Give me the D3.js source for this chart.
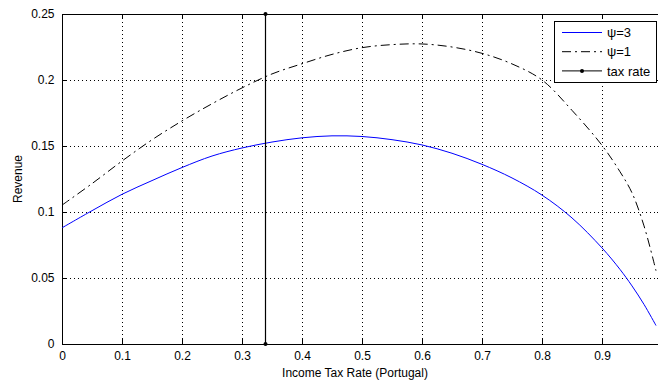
<!DOCTYPE html>
<html>
<head>
<meta charset="utf-8">
<script src="https://cdn.jsdelivr.net/npm/d3@7"></script>
<style>
  body { margin: 0; background: #fff; }
  svg { display: block; font-family: "Liberation Sans", Arial, sans-serif; }
</style>
</head>
<body>
<div id="container"></div>
<script>
// Revenue vs income tax rate (Portugal)

const taxRates = [0, 0.05, 0.1, 0.15, 0.2, 0.25, 0.3, 0.35, 0.4, 0.45, 0.5, 0.55, 0.6, 0.65, 0.7, 0.75, 0.8, 0.85, 0.9, 0.93, 0.95, 0.97, 0.99]
const revenuePsi3 = [0.088, 0.101, 0.1134, 0.1238, 0.1337, 0.1424, 0.1485, 0.153, 0.1562, 0.1577, 0.1572, 0.1548, 0.1508, 0.1445, 0.1361, 0.1258, 0.1128, 0.0955, 0.0728, 0.0565, 0.044, 0.03, 0.014]
const revenuePsi1 = [0.1052, 0.1215, 0.1386, 0.1547, 0.169, 0.182, 0.194, 0.2046, 0.2123, 0.2194, 0.2245, 0.2268, 0.2273, 0.225, 0.2202, 0.2122, 0.2, 0.177, 0.1505, 0.1305, 0.1145, 0.0895, 0.0555]
const currentRate = 0.338
const xTicks = [0, 0.1, 0.2, 0.3, 0.4, 0.5, 0.6, 0.7, 0.8, 0.9]
const yTicks = [0, 0.05, 0.1, 0.15, 0.2, 0.25]
const legendLabels = ["ψ=3", "ψ=1", "tax rate"]

const width = 658,
    height = 385
const padding = { top: 14, left: 62, bottom: 344, right: 662 }

const svg = d3.select("#container")
    .append("svg")
    .attr("width", width)
    .attr("height", height)

const xScale = d3.scaleLinear().domain([0, 1]).range([padding.left, padding.right])
const yScale = d3.scaleLinear().domain([0, 0.25]).range([padding.bottom, padding.top])

// dotted grid
const grid = svg.append("g").attr("id", "grid")
    .attr("stroke", "#000")
    .attr("stroke-width", 1)
    .attr("stroke-dasharray", "1,3")
grid.selectAll(".vgrid")
    .data(xTicks.filter(d => d > 0))
    .enter().append("line")
    .attr("x1", d => Math.round(xScale(d)) + 0.5)
    .attr("x2", d => Math.round(xScale(d)) + 0.5)
    .attr("y1", padding.top)
    .attr("y2", padding.bottom)
grid.selectAll(".hgrid")
    .data(yTicks.filter(d => d > 0 && d < 0.25))
    .enter().append("line")
    .attr("y1", d => Math.round(yScale(d)) + 0.5)
    .attr("y2", d => Math.round(yScale(d)) + 0.5)
    .attr("x1", padding.left)
    .attr("x2", padding.right)

const fmt = d => String(+d.toFixed(2))

// axes, ticks pointing inward like matlab
const xAxis = d3.axisBottom(xScale).tickValues(xTicks).tickSize(-5).tickPadding(7.5).tickFormat(fmt)
const yAxis = d3.axisLeft(yScale).tickValues(yTicks).tickSize(-5).tickPadding(7.5).tickFormat(fmt)

svg.append("g").attr("id", "x-axis")
    .attr("transform", `translate(0,${padding.bottom})`)
    .call(xAxis)
    .call(g => g.select(".domain").remove())
svg.append("g").attr("id", "y-axis")
    .attr("transform", `translate(${padding.left},0)`)
    .call(yAxis)
    .call(g => g.select(".domain").remove())
svg.append("g")
    .attr("transform", `translate(0,${padding.top})`)
    .call(d3.axisTop(xScale).tickValues(xTicks).tickSize(-5).tickFormat(""))
    .call(g => g.select(".domain").remove())
svg.append("g")
    .attr("transform", `translate(${padding.right},0)`)
    .call(d3.axisRight(yScale).tickValues(yTicks).tickSize(-5).tickFormat(""))
    .call(g => g.select(".domain").remove())

svg.selectAll(".tick text")
    .attr("font-size", 12)
    .attr("font-family", "Liberation Sans, Arial, sans-serif")
    .style("fill", "#000")

svg.append("rect")
    .attr("x", padding.left + 0.5)
    .attr("y", padding.top + 0.5)
    .attr("width", padding.right - padding.left)
    .attr("height", padding.bottom - padding.top)
    .attr("fill", "none")
    .attr("stroke", "#000")

// curves
const line = d3.line()
    .x((d, i) => xScale(taxRates[i]))
    .y(d => yScale(d))
    .curve(d3.curveCatmullRom.alpha(0.5))

svg.append("path")
    .datum(revenuePsi3)
    .attr("d", line)
    .attr("fill", "none")
    .attr("stroke", "#0000ff")
    .attr("stroke-width", 1)

svg.append("path")
    .datum(revenuePsi1)
    .attr("d", line)
    .attr("fill", "none")
    .attr("stroke", "#000")
    .attr("stroke-width", 1)
    .attr("stroke-dasharray", "9,4,2,4")

// current tax rate marker line
const rateX = Math.round(xScale(currentRate)) + 0.5
svg.append("line")
    .attr("x1", rateX).attr("x2", rateX)
    .attr("y1", yScale(0)).attr("y2", yScale(0.25))
    .attr("stroke", "#000")
    .attr("stroke-width", 1.2)
svg.selectAll(".ratedot")
    .data([0, 0.25])
    .enter().append("circle")
    .attr("cx", rateX)
    .attr("cy", d => yScale(d))
    .attr("r", 2)
    .attr("fill", "#000")

// axis titles
svg.append("text")
    .attr("x", 355)
    .attr("y", 377)
    .attr("text-anchor", "middle")
    .attr("font-size", 12)
    .text("Income Tax Rate (Portugal)")
svg.append("text")
    .attr("transform", `translate(22,179) rotate(-90)`)
    .attr("text-anchor", "middle")
    .attr("font-size", 12)
    .text("Revenue")

// legend
const legend = svg.append("g").attr("id", "legend")
legend.append("rect")
    .attr("x", 554.5).attr("y", 21.5)
    .attr("width", 102).attr("height", 61)
    .attr("fill", "#fff")
    .attr("stroke", "#000")
const styles = [
    { stroke: "#0000ff", dash: null },
    { stroke: "#000", dash: "9,4,2,4" },
    { stroke: "#000", dash: null },
]
const rows = legend.selectAll(".row")
    .data(legendLabels)
    .enter().append("g")
    .attr("transform", (d, i) => `translate(0,${32.5 + i * 19.2})`)
rows.append("line")
    .attr("x1", 562).attr("x2", 602)
    .attr("stroke", (d, i) => styles[i].stroke)
    .attr("stroke-dasharray", (d, i) => styles[i].dash)
rows.append("text")
    .attr("x", 607)
    .attr("dy", "0.36em")
    .attr("font-size", 13)
    .text(d => d)
rows.filter((d, i) => i === 2)
    .append("circle")
    .attr("cx", 582).attr("r", 2).attr("fill", "#000")
</script>
</body>
</html>
